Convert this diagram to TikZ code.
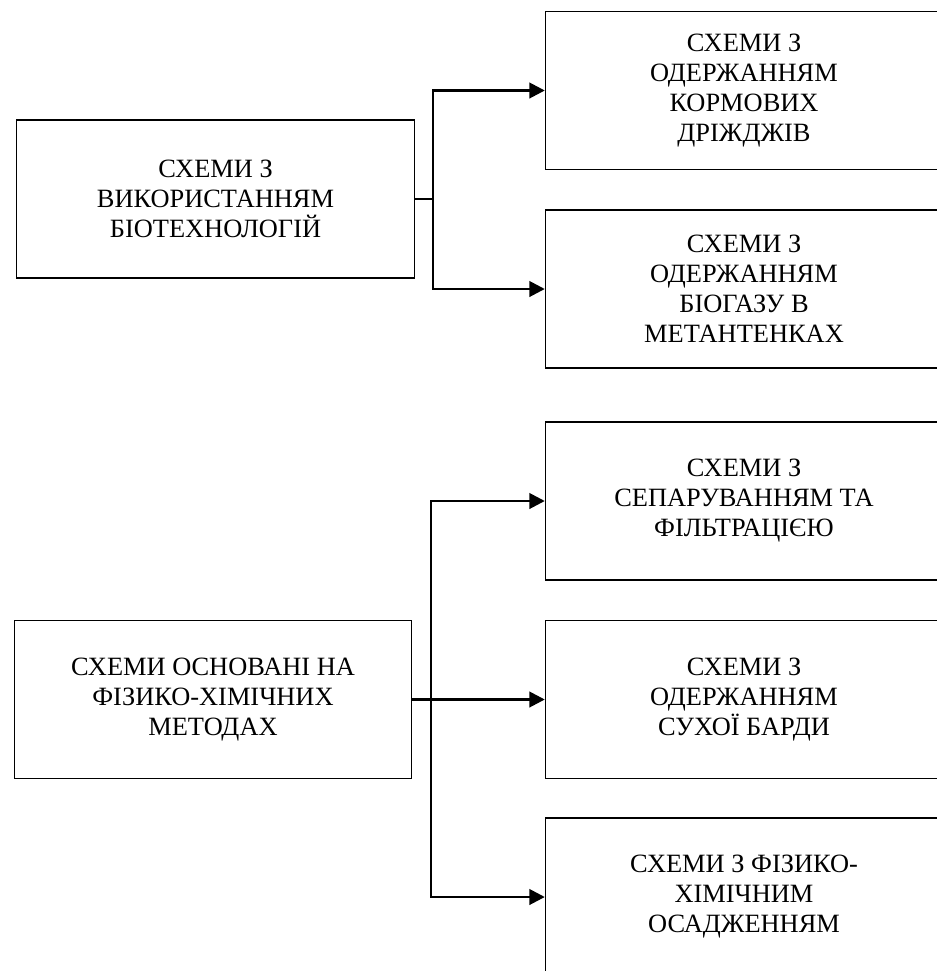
\documentclass[tikz,border=0pt]{standalone}
\usepackage{fontspec}
\setmainfont{Liberation Serif}
\usetikzlibrary{arrows.meta}

\begin{document}
\begin{tikzpicture}[x=0.75pt, y=-0.75pt,
		box/.style={draw, line width=0.8pt, align=center, inner sep=0pt,
			minimum width=298pt, minimum height=118.5pt,
			font=\fontsize{19.8}{22.5}\selectfont},
		conn/.style={line width=2pt},
		arr/.style={conn, -{Triangle[length=11.5pt, width=11.5pt]}}]
			\clip (0,0) rectangle (937,971);

			\node[box] (bio) at (215.5,199) {СХЕМИ З\\ВИКОРИСТАННЯМ\\БІОТЕХНОЛОГІЙ};
			\node[box] (yeast) at (744,90.5) {СХЕМИ З\\ОДЕРЖАННЯМ\\КОРМОВИХ\\ДРІЖДЖІВ};
			\node[box] (biogas) at (744,289) {СХЕМИ З\\ОДЕРЖАННЯМ\\БІОГАЗУ В\\МЕТАНТЕНКАХ};

			\node[box] (phys) at (213,699.5) {СХЕМИ ОСНОВАНІ НА\\ФІЗИКО-ХІМІЧНИХ\\МЕТОДАХ};
			\node[box] (sep) at (744,501) {СХЕМИ З\\СЕПАРУВАННЯМ ТА\\ФІЛЬТРАЦІЄЮ};
			\node[box] (dry) at (744,699.5) {СХЕМИ З\\ОДЕРЖАННЯМ\\СУХОЇ БАРДИ};
			\node[box] (sed) at (744,897) {СХЕМИ З ФІЗИКО-\\ХІМІЧНИМ\\ОСАДЖЕННЯМ};

			\coordinate (j1) at (433,199);
			\coordinate (j2) at (431,699.5);

			\draw[conn] (bio.east) -- (j1);
			\draw[arr] (j1) |- (yeast.west);
			\draw[arr] (j1) |- (biogas.west);

			\draw[conn] (phys.east) -- (j2);
			\draw[arr] (j2) |- (sep.west);
			\draw[arr] (j2) -- (dry.west);
			\draw[arr] (j2) |- (sed.west);
		\end{tikzpicture}
\end{document}
